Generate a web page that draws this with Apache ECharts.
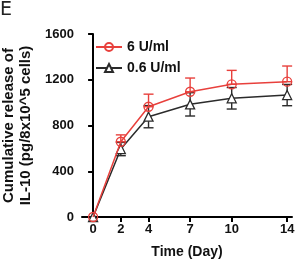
<!DOCTYPE html>
<html>
<head>
<meta charset="utf-8">
<script src="https://cdn.jsdelivr.net/npm/echarts@6/dist/echarts.min.js"></script>
<style>
html, body { margin: 0; padding: 0; background: #fff; }
#chart-container { width: 297px; height: 263px; }
</style>
</head>
<body>
<div id="chart-container"></div>
<script>
var days = [0, 2, 4, 7, 10, 14];
var high = [0, 658, 964, 1095, 1160, 1183];
var highErr = [0, 60, 110, 120, 122, 137];
var low = [0, 594, 877, 985, 1038, 1066];
var lowErr = [0, 58, 97, 102, 94, 93];
var yTicks = [0, 400, 800, 1200, 1600];

var red = '#e8403c';
var dark = '#2b2b2b';
var font = 'Liberation Sans';

var dom = document.getElementById('chart-container');
var myChart = echarts.init(dom, null, { renderer: 'canvas' });

function pairs(xs, ys) {
    return xs.map(function (x, i) { return [x, ys[i]]; });
}

function errData(ys, errs, up, down) {
    return days.map(function (d, i) {
        return [d, down ? ys[i] - errs[i] : ys[i], up ? ys[i] + errs[i] : ys[i]];
    });
}

function errRender(color) {
    return function (params, api) {
        var lo = api.coord([api.value(0), api.value(1)]);
        var hi = api.coord([api.value(0), api.value(2)]);
        var w = 5;
        var style = { stroke: color, lineWidth: 1.4, fill: null };
        var kids = [
            { type: 'line', shape: { x1: lo[0], y1: lo[1], x2: hi[0], y2: hi[1] }, style: style }
        ];
        if (api.value(2) > api.value(1) + 1) {
            kids.push({ type: 'line', shape: { x1: hi[0] - w, y1: hi[1], x2: hi[0] + w, y2: hi[1] }, style: style });
            kids.push({ type: 'line', shape: { x1: lo[0] - w, y1: lo[1], x2: lo[0] + w, y2: lo[1] }, style: style });
        }
        return { type: 'group', children: kids };
    };
}

var option = {
    animation: false,
    grid: { left: 82, right: 5, top: 34, bottom: 46, containLabel: false, outerBoundsMode: 'none' },
    graphic: [{
        type: 'text', left: 0, top: 1,
        style: { text: 'E', font: '19px "DejaVu Sans"', fill: '#222' }
    }],
    legend: {
        left: 90, top: 35, orient: 'vertical', itemGap: 7,
        itemWidth: 26, itemHeight: 10,
        textStyle: { fontFamily: font, fontWeight: 'bold', fontSize: 14, color: '#111' },
        data: ['6 U/ml', '0.6 U/ml']
    },
    xAxis: {
        type: 'value', min: -0.8, max: 14.35,
        name: 'Time (Day)', nameLocation: 'middle', nameGap: 28,
        nameTextStyle: { fontFamily: font, fontWeight: 'bold', fontSize: 14, color: '#111' },
        axisLine: { lineStyle: { color: '#000', width: 2 } },
        axisTick: { length: 5, lineStyle: { color: '#000', width: 2 }, customValues: days },
        axisLabel: { customValues: days, fontFamily: font, fontWeight: 'bold', fontSize: 13, color: '#111', margin: 6 },
        splitLine: { show: false }
    },
    yAxis: {
        type: 'value', min: 0, max: 1600, interval: 400,
        name: 'Cumulative release of\nIL-10 (pg/8x10^5 cells)', nameLocation: 'middle', nameGap: 46,
        nameTextStyle: { fontFamily: font, fontWeight: 'bold', fontSize: 15, color: '#111', lineHeight: 17 },
        axisLine: { lineStyle: { color: '#000', width: 2 } },
        axisTick: { length: 5, lineStyle: { color: '#000', width: 2 } },
        axisLabel: { fontFamily: font, fontWeight: 'bold', fontSize: 13, color: '#111', margin: 8,
            customValues: yTicks, formatter: function (v) { return String(v); } },
        splitLine: { show: false }
    },
    series: [
        {
            type: 'custom', name: 'lowErr', renderItem: errRender(dark),
            data: errData(low, lowErr, true, true), z: 2, silent: true
        },
        {
            type: 'custom', name: 'highErr', renderItem: errRender(red),
            data: errData(high, highErr, true, false), z: 3, silent: true
        },
        {
            name: '0.6 U/ml', type: 'line', data: pairs(days, low),
            symbol: 'triangle', symbolSize: 9, color: dark,
            lineStyle: { color: dark, width: 1.5 },
            itemStyle: { color: '#fff', borderColor: dark, borderWidth: 1.3 }, z: 4
        },
        {
            name: '6 U/ml', type: 'line', data: pairs(days, high),
            symbol: 'circle', symbolSize: 9, color: red,
            lineStyle: { color: red, width: 1.5 },
            itemStyle: { color: 'rgba(255,255,255,0)', borderColor: red, borderWidth: 1.3 }, z: 5
        }
    ]
};

myChart.setOption(option);
window.addEventListener('resize', myChart.resize);
</script>
</body>
</html>
